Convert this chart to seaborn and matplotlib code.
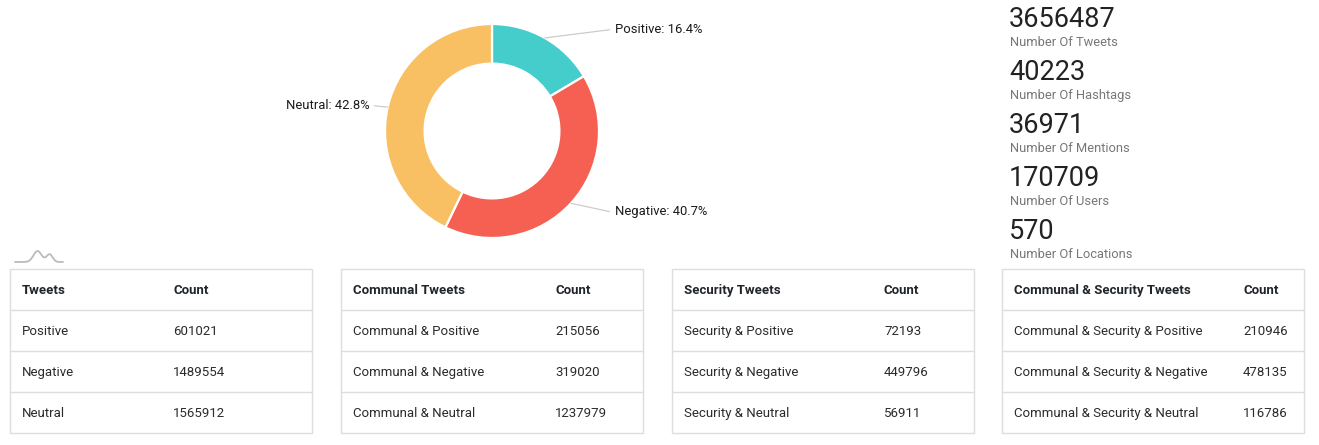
import numpy as np
import matplotlib
matplotlib.use("Agg")
import matplotlib.pyplot as plt
import seaborn as sns

# ---------------- data ----------------
sentiments = ["Positive", "Negative", "Neutral"]
sentiment_counts = [601021, 1489554, 1565912]
sentiment_colors = ["#45CDCB", "#F66052", "#F8C063"]

stat_values = [3656487, 40223, 36971, 170709, 570]
stat_labels = ["Number Of Tweets", "Number Of Hashtags", "Number Of Mentions",
               "Number Of Users", "Number Of Locations"]

table_titles = ["Tweets", "Communal Tweets", "Security Tweets", "Communal & Security Tweets"]
table_rows = [
    ["Positive", "Negative", "Neutral"],
    ["Communal & Positive", "Communal & Negative", "Communal & Neutral"],
    ["Security & Positive", "Security & Negative", "Security & Neutral"],
    ["Communal & Security & Positive", "Communal & Security & Negative", "Communal & Security & Neutral"],
]
table_counts = [
    [601021, 1489554, 1565912],
    [215056, 319020, 1237979],
    [72193, 449796, 56911],
    [210946, 478135, 116786],
]

# ---------------- style ----------------
sns.set_theme(style="white")
plt.rcParams["font.family"] = ["Roboto", "DejaVu Sans"]

W, H = 1319, 445
fig = plt.figure(figsize=(W / 100, H / 100), dpi=100)
fig.patch.set_facecolor("white")

# ---------------- donut ----------------
cx, cy, R = 492, 131, 107
ax = fig.add_axes([(cx - R) / W, 1 - (cy + R) / H, 2 * R / W, 2 * R / H])
wedges, _ = ax.pie(sentiment_counts, colors=sns.color_palette(sentiment_colors),
                   startangle=90, counterclock=False, radius=1.0,
                   wedgeprops=dict(width=0.37, edgecolor="white", linewidth=1.6))
ax.set_xlim(-1, 1)
ax.set_ylim(-1, 1)
ax.set_aspect("equal")
ax.axis("off")

total = sum(sentiment_counts)
for w, name, cnt in zip(wedges, sentiments, sentiment_counts):
    ang = np.deg2rad((w.theta1 + w.theta2) / 2)
    x0, y0 = np.cos(ang), np.sin(ang)
    side = 1 if x0 >= 0 else -1
    ly = 1.1 * y0 - 0.01
    ax.plot([x0, side * 1.10], [y0, ly], color="#cccccc", lw=0.9, clip_on=False)
    ax.text(side * 1.145, ly, f"{name}: {100 * cnt / total:.1f}%",
            ha="left" if side > 0 else "right", va="center",
            fontsize=9.4, color="#1a1a1a", clip_on=False)

# ---------------- overlay in pixel coords ----------------
ov = fig.add_axes([0, 0, 1, 1], zorder=-1)
ov.set_xlim(0, W)
ov.set_ylim(H, 0)
ov.axis("off")

# stats
for i, (v, lab) in enumerate(zip(stat_values, stat_labels)):
    y = 19.5 + 53 * i
    ov.text(1009, y, f"{v}", fontsize=19.5, color="#222222", ha="left", va="center")
    ov.text(1010, y + 23, lab, fontsize=9.3, color="#777777", ha="left", va="center")

# little decorative icon
ix = np.linspace(0, 1, 80)
iy = np.exp(-((ix - 0.47) / 0.12) ** 2) + 0.7 * np.exp(-((ix - 0.72) / 0.09) ** 2)
ov.plot(15 + 48 * ix, 262 - 11 * iy, color="#bbbbbb", lw=1.3)

# tables
lefts = [10, 341, 672, 1002]
count_x = [173, 555, 884, 1243]
box_w = 302
top, row_h = 269, 41
border = "#dddddd"
fs = 9.55
for t in range(4):
    L = lefts[t]
    ov.add_patch(plt.Rectangle((L, top), box_w, row_h * 4, fill=False,
                               edgecolor=border, lw=1.0))
    for r in range(1, 4):
        ov.plot([L, L + box_w], [top + r * row_h] * 2, color=border, lw=1.0)
    yc = top + row_h / 2 + 1
    ov.text(L + 12, yc, table_titles[t], fontsize=fs, fontweight="bold",
            color="#212529", va="center", ha="left")
    ov.text(count_x[t], yc, "Count", fontsize=fs, fontweight="bold",
            color="#212529", va="center", ha="left")
    for r in range(3):
        yc = top + (r + 1.5) * row_h + 1
        ov.text(L + 12, yc, table_rows[t][r], fontsize=fs, color="#2b2b2b",
                va="center", ha="left")
        ov.text(count_x[t], yc, f"{table_counts[t][r]}", fontsize=fs,
                color="#2b2b2b", va="center", ha="left")

fig.savefig("out.png", dpi=100, facecolor="white")
